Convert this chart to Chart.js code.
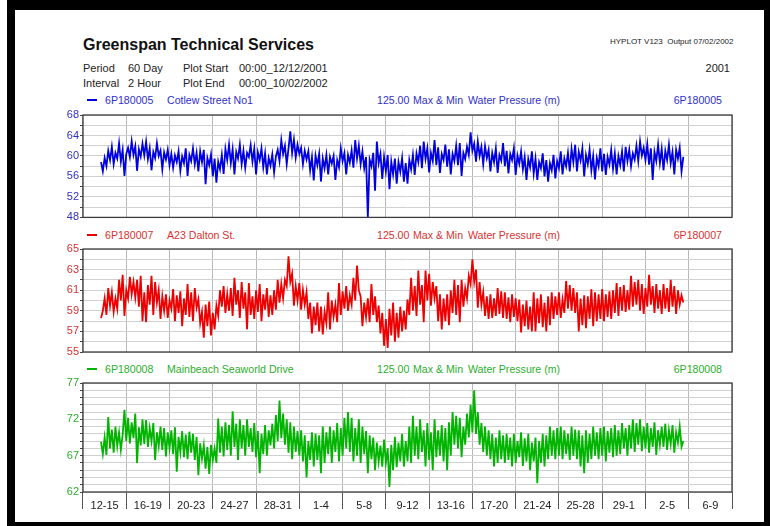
<!DOCTYPE html>
<html>
<head>
<meta charset="utf-8">
<script src="https://cdn.jsdelivr.net/npm/chart.js@4.4.1/dist/chart.umd.min.js"></script>
<style>
  html, body { margin: 0; padding: 0; background: #fff; }
  body { width: 770px; height: 526px; position: relative; overflow: hidden; font-family: "Liberation Sans", Arial, sans-serif; }
  #frame { position: absolute; left: 7px; top: 0; width: 749px; height: 512px; border-style: solid; border-color: #000; border-width: 10px 6px 4px 8px; }
  .t { position: absolute; white-space: nowrap; line-height: 1; font-size: 11px; color: #222; }
  .s { font-size: 10.6px; }
  .r { text-align: right; }
  .dash { position: absolute; width: 10px; height: 2px; }
  .blue { color: #3030c8; } .red { color: #d83232; } .green { color: #2eae2e; }
  canvas { position: absolute; left: 0; }
</style>
</head>
<body>
<div id="frame"></div>

<div class="t" style="left:83px;top:37px;font-size:16px;font-weight:bold;color:#111">Greenspan Technical Services</div>
<div class="t" style="left:610px;top:38px;font-size:8px">HYPLOT V123&nbsp; Output 07/02/2002</div>
<div class="t r" style="right:40px;top:63px">2001</div>

<div class="t" style="left:83px;top:63px">Period</div>
<div class="t" style="left:128px;top:63px">60 Day</div>
<div class="t" style="left:183px;top:63px">Plot Start</div>
<div class="t" style="left:239px;top:63px">00:00_12/12/2001</div>
<div class="t" style="left:83px;top:78px">Interval</div>
<div class="t" style="left:128px;top:78px">2 Hour</div>
<div class="t" style="left:183px;top:78px">Plot End</div>
<div class="t" style="left:239px;top:78px">00:00_10/02/2002</div>

<div class="dash" style="left:87px;top:99px;background:#0000e0"></div>
<div class="t s blue" style="left:105px;top:95px">6P180005</div>
<div class="t s blue" style="left:167px;top:95px">Cotlew Street No1</div>
<div class="t s blue" style="left:377px;top:95px">125.00</div>
<div class="t s blue" style="left:413px;top:95px">Max &amp; Min</div>
<div class="t s blue" style="left:468px;top:95px">Water Pressure (m)</div>
<div class="t s blue r" style="right:48px;top:95px">6P180005</div>

<div class="dash" style="left:87px;top:234px;background:#ee0000"></div>
<div class="t s red" style="left:105px;top:230px">6P180007</div>
<div class="t s red" style="left:167px;top:230px">A23 Dalton St.</div>
<div class="t s red" style="left:377px;top:230px">125.00</div>
<div class="t s red" style="left:413px;top:230px">Max &amp; Min</div>
<div class="t s red" style="left:468px;top:230px">Water Pressure (m)</div>
<div class="t s red r" style="right:48px;top:230px">6P180007</div>

<div class="dash" style="left:87px;top:368px;background:#00b400"></div>
<div class="t s green" style="left:105px;top:364px">6P180008</div>
<div class="t s green" style="left:167px;top:364px">Mainbeach Seaworld Drive</div>
<div class="t s green" style="left:377px;top:364px">125.00</div>
<div class="t s green" style="left:413px;top:364px">Max &amp; Min</div>
<div class="t s green" style="left:468px;top:364px">Water Pressure (m)</div>
<div class="t s green r" style="right:48px;top:364px">6P180008</div>

<canvas id="cotlew" width="770" height="120" style="top:105px"></canvas>
<canvas id="dalton" width="770" height="120" style="top:240px"></canvas>
<canvas id="mainbeach" width="770" height="141" style="top:374px"></canvas>

<script>
// 4-day blocks along the bottom axis (Dec 12 -> Feb 10)
const periodLabels = ['12-15', '16-19', '20-23', '24-27', '28-31', '1-4', '5-8', '9-12',
  '13-16', '17-20', '21-24', '25-28', '29-1', '2-5', '6-9'];
const plotDays = 60;
const firstSampleDay = 5 / 3;  // days after plot start
const sampleStepDays = 1 / 6;  // 4 hours

// water pressure (m), alternating max / min, one row = 4 days
const cotlewPressure = [
  58.8, 57.0, 59.6, 58.0, 61.0, 59.2, 61.8, 58.4, 60.6, 59.5, 62.5, 58.9, 61.2, 56.1, 60.4, 61.6, 59.8, 62.9, 60.2, 61.9, 57.1, 61.3, 59.9, 62.4,
  60.1, 62.8, 59.4, 61.5, 57.2, 60.8, 59.6, 62.5, 60.0, 61.1, 57.4, 60.7, 59.3, 61.2, 58.2, 60.4, 57.7, 60.1, 58.8, 60.9, 57.1, 59.9, 58.6, 61.5,
  56.1, 60.2, 59.0, 61.5, 58.4, 60.6, 57.0, 60.9, 58.8, 61.2, 54.5, 59.6, 58.2, 60.3, 56.0, 59.5, 54.8, 58.9, 57.4, 60.2, 56.5, 61.4, 59.2, 62.2,
  58.6, 61.3, 56.4, 60.8, 59.5, 62.2, 58.4, 61.0, 57.7, 60.6, 59.8, 62.1, 58.9, 61.4, 56.4, 60.7, 59.2, 61.5, 57.8, 60.5, 56.4, 59.6, 58.1, 60.3,
  56.8, 59.9, 61.2, 59.0, 63.1, 60.4, 62.0, 58.4, 61.5, 64.8, 60.6, 63.2, 59.7, 62.2, 60.4, 61.6, 58.4, 61.0, 59.3, 60.9, 57.2, 59.8, 55.2, 60.1,
  58.2, 60.4, 55.0, 59.5, 57.6, 60.2, 56.4, 59.8, 58.5, 60.0, 55.3, 59.2, 57.8, 61.5, 59.0, 60.6, 56.4, 60.2, 58.7, 61.1, 57.7, 63.1, 59.5, 62.0,
  58.4, 60.9, 57.6, 59.8, 48.0, 59.3, 58.0, 60.6, 53.2, 62.8, 58.6, 60.4, 55.5, 59.8, 57.0, 60.2, 53.5, 58.9, 56.4, 59.5, 54.6, 58.8, 56.9, 59.6,
  55.0, 58.6, 54.6, 59.2, 57.4, 60.2, 56.3, 60.5, 58.8, 62.0, 57.6, 62.8, 59.4, 61.5, 56.8, 60.6, 59.0, 63.1, 58.2, 61.7, 56.7, 60.4, 59.2, 62.2,
  57.9, 61.3, 56.4, 60.4, 59.0, 62.0, 58.2, 62.5, 56.1, 60.6, 59.4, 61.8, 60.2, 64.6, 61.0, 62.4, 58.9, 62.8, 60.0, 61.8, 58.4, 61.9, 59.6, 61.2,
  57.0, 60.6, 58.8, 61.5, 56.7, 60.2, 59.1, 62.5, 58.0, 61.0, 56.6, 60.4, 59.2, 61.5, 56.3, 60.1, 58.5, 60.9, 57.4, 59.8, 55.3, 59.4, 57.8, 60.9,
  56.6, 59.5, 55.3, 58.8, 57.6, 60.5, 56.0, 59.2, 55.0, 58.6, 57.2, 60.2, 55.6, 59.0, 57.6, 60.9, 56.4, 59.5, 58.0, 60.6, 57.0, 61.4, 58.8, 62.2,
  57.0, 60.8, 59.1, 61.5, 56.0, 60.2, 58.4, 61.2, 57.2, 60.0, 55.4, 59.6, 58.0, 61.5, 57.0, 60.4, 56.3, 59.8, 58.3, 61.2, 57.5, 60.5, 56.4, 60.0,
  58.2, 60.9, 57.0, 61.8, 59.0, 61.2, 58.0, 60.5, 59.3, 62.0, 59.0, 62.8, 60.1, 61.6, 59.2, 62.3, 58.3, 61.5, 55.3, 60.8, 59.0, 62.2, 58.6, 61.4,
  57.2, 61.0, 59.2, 62.2, 58.6, 60.8, 56.4, 61.2, 59.5, 61.6, 57.0, 59.8
];

const daltonPressure = [
  58.3, 59.0, 60.2, 58.6, 61.2, 59.5, 60.8, 58.9, 60.2, 59.2, 62.0, 60.0, 62.5, 58.5, 61.0, 60.2, 62.3, 60.6, 61.8, 60.3, 62.0, 59.4, 62.4, 58.0,
  60.8, 57.9, 61.5, 59.6, 62.4, 58.6, 61.8, 59.8, 61.0, 58.2, 60.4, 59.0, 60.6, 58.3, 60.0, 59.2, 61.1, 58.0, 60.5, 58.8, 60.9, 57.5, 60.2, 58.6,
  61.6, 58.4, 60.8, 58.0, 61.2, 59.3, 60.1, 57.8, 58.9, 56.4, 59.6, 57.5, 59.9, 56.6, 58.8, 57.2, 59.5, 58.5, 61.0, 59.4, 61.4, 58.8, 60.6, 59.0,
  61.2, 58.5, 62.2, 59.6, 61.0, 58.3, 61.8, 59.2, 60.8, 57.2, 61.7, 58.6, 60.4, 58.2, 61.0, 58.9, 61.6, 58.0, 60.6, 59.1, 61.2, 58.4, 60.5, 58.6,
  61.0, 59.1, 62.0, 59.8, 61.6, 60.2, 62.0, 61.4, 64.3, 61.8, 62.6, 59.5, 61.4, 60.0, 61.7, 59.1, 61.0, 59.6, 60.8, 58.2, 59.8, 56.8, 59.4, 57.6,
  59.8, 57.0, 59.4, 56.7, 58.9, 57.8, 60.8, 57.2, 60.0, 58.4, 59.6, 57.9, 61.7, 58.6, 60.9, 59.2, 61.4, 59.0, 60.5, 59.6, 62.2, 60.0, 63.4, 61.0,
  60.4, 57.5, 59.8, 58.4, 60.2, 57.9, 61.6, 58.6, 60.4, 57.9, 59.5, 56.8, 58.8, 55.6, 58.2, 55.4, 59.2, 56.6, 59.8, 56.0, 58.8, 56.4, 59.4, 57.0,
  59.0, 57.2, 60.1, 58.6, 62.2, 59.0, 61.4, 58.5, 62.9, 59.6, 61.5, 57.9, 62.9, 60.0, 62.6, 59.5, 61.8, 60.2, 61.4, 58.0, 60.6, 57.2, 60.2, 58.0,
  60.6, 57.6, 61.0, 58.8, 62.0, 58.6, 61.5, 57.9, 62.0, 59.4, 61.2, 60.2, 62.4, 61.6, 64.0, 61.8, 63.0, 59.3, 61.8, 59.6, 60.8, 58.5, 60.4, 58.2,
  60.6, 58.3, 60.2, 58.5, 61.2, 58.7, 60.9, 58.3, 60.8, 58.2, 60.3, 57.9, 60.6, 58.4, 60.2, 58.0, 60.1, 56.9, 59.6, 57.5, 60.0, 57.2, 59.4, 57.0,
  60.8, 57.0, 60.2, 57.8, 60.6, 57.4, 59.8, 57.0, 60.4, 57.6, 60.8, 58.2, 60.4, 58.6, 60.8, 58.3, 60.1, 58.8, 61.9, 59.2, 61.5, 59.0, 61.2, 58.8,
  60.8, 57.0, 60.2, 57.6, 60.5, 57.3, 60.4, 58.2, 61.1, 57.5, 60.8, 58.0, 60.6, 58.2, 61.1, 58.0, 60.6, 58.4, 60.9, 58.2, 61.0, 58.8, 61.7, 58.5,
  61.3, 59.0, 61.5, 58.9, 61.0, 59.1, 62.4, 59.4, 61.8, 59.6, 62.0, 59.0, 61.6, 58.7, 61.2, 59.4, 62.5, 59.6, 61.4, 58.8, 61.6, 59.2, 61.0, 58.7,
  61.6, 59.2, 61.2, 58.9, 62.0, 59.4, 61.4, 58.7, 61.0, 59.6, 60.5, 59.8
];

const mainbeachPressure = [
  68.9, 67.2, 69.5, 67.1, 72.3, 68.0, 70.6, 67.4, 71.0, 68.3, 70.2, 67.8, 69.9, 73.3, 69.0, 72.2, 68.7, 71.6, 69.4, 72.8, 66.0, 70.9, 68.4, 72.0,
  68.6, 71.9, 68.2, 70.8, 69.0, 71.5, 66.4, 70.2, 68.3, 71.0, 67.8, 70.8, 66.9, 70.2, 68.0, 70.5, 67.2, 70.9, 64.8, 69.6, 67.5, 70.4, 66.8, 69.9,
  66.5, 70.3, 67.4, 70.0, 66.4, 69.6, 64.3, 68.7, 66.6, 68.4, 65.2, 68.2, 64.5, 68.5, 66.4, 68.0, 66.0, 72.1, 67.4, 71.0, 66.9, 71.6, 67.8, 71.2,
  67.0, 73.1, 68.2, 71.4, 66.4, 72.0, 68.0, 71.2, 67.0, 72.0, 68.2, 70.8, 67.5, 71.5, 66.8, 70.4, 64.6, 70.0, 67.2, 71.2, 67.0, 70.5, 68.4, 71.4,
  68.0, 72.6, 69.0, 74.6, 69.4, 72.8, 68.5, 72.0, 67.4, 71.6, 66.5, 71.0, 67.5, 70.4, 67.0, 70.5, 66.2, 69.8, 64.0, 69.0, 66.4, 70.2, 65.5, 70.0,
  66.4, 69.8, 64.6, 71.0, 66.0, 70.2, 67.2, 71.0, 66.0, 70.5, 67.5, 71.5, 66.2, 70.8, 67.0, 72.2, 68.0, 73.0, 67.5, 72.2, 66.2, 70.8, 67.0, 72.0,
  66.0, 71.0, 67.2, 70.4, 64.6, 69.8, 66.5, 69.5, 65.0, 68.8, 66.2, 68.4, 65.5, 69.2, 66.0, 68.0, 62.7, 68.5, 65.0, 69.6, 65.4, 68.8, 66.2, 70.0,
  65.5, 69.0, 66.2, 71.0, 66.0, 72.5, 67.0, 71.0, 66.5, 72.0, 67.5, 70.5, 65.5, 71.5, 66.4, 70.2, 65.0, 72.0, 66.8, 70.5, 67.0, 71.2, 66.2, 70.8,
  65.0, 71.6, 67.0, 73.0, 68.5, 72.5, 68.0, 72.2, 66.8, 71.0, 68.5, 72.8, 69.5, 74.0, 70.2, 76.0, 70.0, 73.0, 68.5, 71.5, 67.5, 71.0, 67.0, 70.5,
  66.5, 70.0, 65.5, 69.5, 66.0, 70.5, 66.5, 69.8, 66.0, 70.0, 66.4, 69.5, 65.5, 70.0, 66.0, 69.0, 66.8, 70.2, 65.6, 69.4, 66.2, 70.0, 65.0, 68.8,
  66.2, 69.5, 63.2, 69.0, 66.0, 70.0, 65.5, 69.8, 66.5, 71.0, 67.0, 70.5, 66.5, 70.8, 67.0, 71.0, 66.5, 70.5, 67.2, 70.0, 66.4, 71.0, 67.0, 70.6,
  66.5, 70.5, 65.5, 69.8, 64.6, 70.5, 66.0, 70.0, 66.5, 71.0, 67.0, 70.2, 66.5, 70.8, 67.0, 71.0, 66.2, 70.4, 67.4, 70.8, 66.8, 71.2, 67.0, 70.5,
  67.2, 71.5, 68.0, 70.8, 67.0, 71.2, 68.0, 72.0, 67.5, 71.5, 68.5, 72.0, 67.6, 71.0, 68.0, 71.5, 67.4, 70.8, 68.2, 71.6, 67.1, 70.5, 68.5, 71.0,
  68.2, 71.4, 67.8, 70.5, 68.6, 71.2, 67.4, 70.2, 68.8, 71.0, 68.2, 69.0
];

// dark box round each plot area
const frameBox = {
  id: 'frameBox',
  afterDraw(chart) {
    const a = chart.chartArea;
    const ctx = chart.ctx;
    ctx.save();
    ctx.strokeStyle = '#3c3c3c';
    ctx.lineWidth = 1.3;
    ctx.strokeRect(a.left, a.top, a.right - a.left, a.bottom - a.top);
    ctx.restore();
  }
};

function toPoints(values) {
  return values.map((v, i) => ({ x: firstSampleDay + i * sampleStepDays, y: v }));
}

function makePanel(id, values, color, tickColor, yMin, yMax, yStep, labelStep, pad, bottomAxis) {
  new Chart(document.getElementById(id), {
    type: 'line',
    data: {
      labels: periodLabels,
      datasets: [{
        data: toPoints(values),
        xAxisID: 'xd',
        yAxisID: 'y',
        borderColor: color,
        borderWidth: 1.8,
        pointRadius: 0,
        tension: 0,
        fill: false
      }]
    },
    options: {
      responsive: false,
      animation: false,
      devicePixelRatio: 1,
      layout: { padding: { left: 0, right: 38, top: pad[0], bottom: pad[1] } },
      plugins: { legend: { display: false }, tooltip: { enabled: false } },
      scales: {
        x: {
          type: 'category',
          position: 'bottom',
          offset: true,
          grid: { offset: true, color: '#b8b8b8', drawTicks: bottomAxis, tickLength: 17, tickColor: '#555' },
          border: { display: false },
          ticks: {
            display: bottomAxis, padding: -10, color: '#222', autoSkip: false, maxRotation: 0,
            font: { family: 'Liberation Sans', size: 11 }
          },
          afterFit: s => { s.height = bottomAxis ? 23 : 0; }
        },
        xd: { type: 'linear', display: false, min: 0, max: plotDays },
        y: {
          min: yMin,
          max: yMax,
          ticks: {
            stepSize: yStep,
            maxTicksLimit: 40,
            autoSkip: false,
            color: tickColor,
            padding: 1,
            font: { family: 'Liberation Sans', size: 11 },
            callback: v => ((v - yMin) % labelStep === 0 ? v : '')
          },
          grid: { color: '#d0d0d0', tickLength: 3, tickColor: '#444' },
          border: { display: false },
          afterFit: s => { s.width = 83; }
        }
      }
    },
    plugins: [frameBox]
  });
}

makePanel('cotlew', cotlewPressure, '#0000e0', '#3030c8', 48, 68, 2, 4, [10, 7], false);
makePanel('dalton', daltonPressure, '#ee0000', '#d83232', 55, 65, 1, 2, [9, 8], false);
makePanel('mainbeach', mainbeachPressure, '#00b400', '#2eae2e', 62, 77, 1, 5, [9, 0], true);
</script>
</body>
</html>
